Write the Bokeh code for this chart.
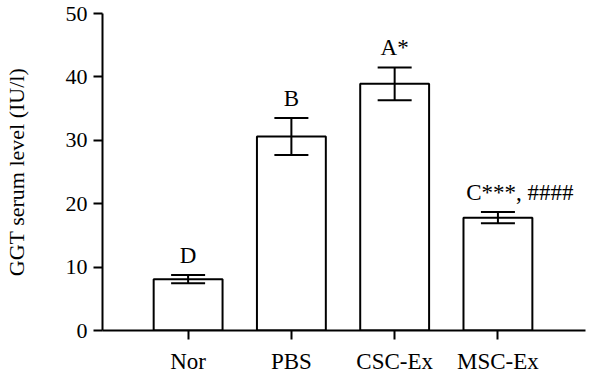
from bokeh.plotting import figure
from bokeh.models import Range1d, FixedTicker, Whisker, TeeHead, ColumnDataSource, LabelSet
from bokeh.embed import file_html
from bokeh.resources import INLINE

categories = ["Nor", "PBS", "CSC-Ex", "MSC-Ex"]
means = [8.1, 30.6, 38.9, 17.8]
errors = [0.65, 2.9, 2.6, 0.9]
sig_labels = ["D", "B", "A*", "C***, ####"]
y_ticks = [0, 10, 20, 30, 40, 50]

FONT = "Liberation Serif"
FS = "22px"

xs = list(range(len(categories)))
upper = [m + e for m, e in zip(means, errors)]
lower = [m - e for m, e in zip(means, errors)]

src = ColumnDataSource(dict(x=xs, top=means, upper=upper, lower=lower,
                            label=sig_labels,
                            xoff=[0, 0, 0, 22]))

p = figure(width=592, height=376, output_backend="svg", toolbar_location=None,
           x_range=Range1d(-0.829, 3.848), y_range=Range1d(0, 50),
           min_border_left=94, min_border_right=7, min_border_top=13,
           min_border_bottom=44)
p.outline_line_color = None
p.xgrid.visible = False
p.ygrid.visible = False
p.background_fill_color = "white"
p.border_fill_color = "white"

p.vbar(x="x", top="top", width=0.667, bottom=0, source=src,
       fill_color="white", line_color="black", line_width=2)

w = Whisker(base="x", upper="upper", lower="lower", source=src,
            line_color="black", line_width=2, level="overlay",
            upper_head=TeeHead(size=34, line_color="black", line_width=2),
            lower_head=TeeHead(size=34, line_color="black", line_width=2))
p.add_layout(w)

labels = LabelSet(x="x", y="upper", text="label", source=src, x_offset="xoff", y_offset=12,
                  text_align="center", text_baseline="alphabetic",
                  text_font=FONT, text_font_size="23px", text_color="black",
                  level="overlay")
p.add_layout(labels)

for ax in (p.xaxis[0], p.yaxis[0]):
    ax.axis_line_width = 2
    ax.axis_line_color = "black"
    ax.major_tick_line_width = 2
    ax.major_tick_line_color = "black"
    ax.major_tick_out = 9
    ax.major_tick_in = 0
    ax.minor_tick_line_color = None
    ax.major_label_text_font = FONT
    ax.major_label_text_font_size = FS
    ax.major_label_text_color = "black"

p.xaxis.ticker = FixedTicker(ticks=xs)
p.xaxis.major_label_overrides = {i: c for i, c in enumerate(categories)}
p.xaxis.major_label_standoff = 9
p.xaxis.major_label_text_font_size = "23px"

p.yaxis.ticker = FixedTicker(ticks=y_ticks)
p.yaxis.major_label_standoff = 6
p.yaxis.axis_label = "GGT serum level (IU/l)"
p.yaxis.axis_label_text_font = FONT
p.yaxis.axis_label_text_font_size = FS
p.yaxis.axis_label_text_font_style = "normal"
p.yaxis.axis_label_text_color = "black"
p.yaxis.axis_label_standoff = 34

open("out.html", "w").write(file_html(p, INLINE))
